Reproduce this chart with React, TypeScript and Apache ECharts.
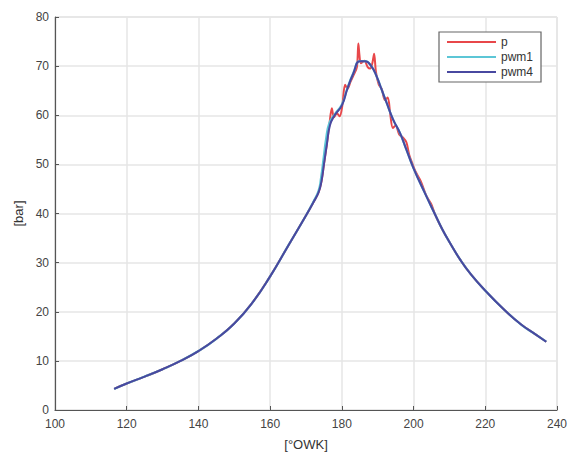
import React, { useEffect, useRef } from "react";
import * as echarts from "echarts";

// crank angle [°OWK] and pressure [bar]
const xPwm4 = [116.5, 120, 125, 130, 135, 140, 145, 150, 155, 160, 165, 170, 172, 173.5, 174.3, 175, 175.8, 176.7, 178, 180, 181.5, 183.2, 185, 186.5, 188.3, 189.7, 191.1, 192.5, 194.3, 196.2, 198, 200, 203, 206, 208, 210, 213, 216, 220, 225, 230, 234, 237];
const yPwm4 = [4.3, 5.4, 6.8, 8.3, 10.0, 12.0, 14.5, 17.6, 21.8, 27.2, 33.4, 39.6, 42.2, 44.3, 46.5, 50, 54, 58, 60, 62, 65.3, 68.5, 71, 71, 69.9, 67.9, 65.2, 62.5, 59.1, 56.4, 53, 49.2, 44.4, 39.8, 36.8, 34.2, 30.6, 27.6, 24.3, 20.6, 17.4, 15.4, 13.9];

const xPwm1 = [116.5, 120, 125, 130, 135, 140, 145, 150, 155, 160, 165, 170, 172, 173.5, 174.2, 174.9, 175.6, 176.5, 178, 180, 181.5, 183.2, 185, 186.5, 188.3, 189.7, 191.1, 192.5, 194.3, 196.2, 198, 200, 203, 206, 208, 210, 213, 216, 220, 225, 230, 234, 237];
const yPwm1 = [4.3, 5.4, 6.8, 8.3, 10.0, 12.0, 14.5, 17.6, 21.8, 27.2, 33.4, 39.6, 42.3, 44.6, 47.3, 51.2, 55.2, 58.4, 60.2, 62.2, 65.4, 68.6, 71, 71, 69.9, 67.9, 65.2, 62.5, 59.1, 56.4, 53, 49.2, 44.4, 39.8, 36.8, 34.2, 30.6, 27.6, 24.3, 20.6, 17.4, 15.4, 13.9];

const xP = [116.5, 120, 125, 130, 135, 140, 145, 150, 155, 160, 165, 170, 172, 173.5, 174.3, 175, 175.8, 176.5, 177.2, 177.8, 178.6, 179.4, 180.1, 180.9, 181.6, 182.4, 183.3, 184.2, 184.6, 184.9, 185.3, 186.3, 187.2, 187.9, 188.5, 189, 189.5, 190.3, 191.1, 192, 192.8, 193.5, 194.2, 195, 196, 197, 198, 198.8, 199.6, 200.5, 202, 203.4, 204.1, 205, 206, 208, 210, 213, 216, 220, 225, 230, 234, 237];
const yP = [4.3, 5.4, 6.8, 8.3, 10.0, 12.0, 14.5, 17.6, 21.8, 27.2, 33.4, 39.6, 42.2, 44.3, 46.5, 50, 54, 58, 61.4, 59.6, 60.4, 59.8, 61.8, 66.2, 65.4, 66.8, 68.2, 69.8, 74.6, 72.3, 70.6, 71.1, 69.8, 69.5, 70.6, 72.5, 68.8, 66.2, 65.4, 63.1, 63.6, 60.2, 57.4, 57.9, 56.1, 55.5, 54.5, 51.9, 50.3, 48.6, 46.6, 43.9, 42.9, 41.8, 39.8, 36.8, 34.2, 30.6, 27.6, 24.3, 20.6, 17.4, 15.4, 13.9];

const xTicks = [100, 120, 140, 160, 180, 200, 220, 240];
const yTicks = [0, 10, 20, 30, 40, 50, 60, 70, 80];

const pairs = (xs: number[], ys: number[]) => xs.map((x, i) => [x, ys[i]]);

const FONT = "Liberation Sans, Arial, sans-serif";

export default function App() {
  const ref = useRef<HTMLDivElement>(null);
  useEffect(() => {
    if (!ref.current) return;
    const chart = echarts.init(ref.current, undefined, { renderer: "svg" });
    chart.setOption({
      animation: false,
      backgroundColor: "#ffffff",
      grid: {
        left: 55,
        right: 14,
        top: 17,
        bottom: 47,
        show: true,
        borderColor: "#d8d8d8",
        borderWidth: 1,
      },
      legend: {
        orient: "vertical",
        left: 439,
        top: 32,
        icon: "rect",
        itemWidth: 49,
        itemHeight: 2,
        itemGap: 3,
        padding: [4, 8, 4, 8],
        borderColor: "#666",
        borderWidth: 1.2,
        borderRadius: 0,
        backgroundColor: "#fff",
        textStyle: { fontSize: 12, color: "#333", fontFamily: FONT },
        data: ["p", "pwm1", "pwm4"],
      },
      xAxis: {
        type: "value",
        min: xTicks[0],
        max: xTicks[xTicks.length - 1],
        interval: 20,
        name: "[°OWK]",
        nameLocation: "middle",
        nameGap: 28,
        nameTextStyle: { fontSize: 13, color: "#333", fontFamily: FONT },
        axisLine: { lineStyle: { color: "#555", width: 1.2 } },
        axisTick: { inside: true, length: 4, lineStyle: { color: "#555" } },
        axisLabel: { fontSize: 12, color: "#444", fontFamily: FONT, margin: 8 },
        splitLine: { show: true, lineStyle: { color: "#e6e6e6", width: 1.5 } },
      },
      yAxis: {
        type: "value",
        min: yTicks[0],
        max: yTicks[yTicks.length - 1],
        interval: 10,
        name: "[bar]",
        nameLocation: "middle",
        nameGap: 28,
        nameTextStyle: { fontSize: 13, color: "#333", fontFamily: FONT },
        axisLine: { show: true, lineStyle: { color: "#555", width: 1.2 } },
        axisTick: { show: true, inside: true, length: 4, lineStyle: { color: "#555" } },
        axisLabel: { fontSize: 12, color: "#444", fontFamily: FONT, margin: 6 },
        splitLine: { show: true, lineStyle: { color: "#e6e6e6", width: 1.5 } },
      },
      series: [
        {
          name: "p",
          type: "line",
          data: pairs(xP, yP),
          symbol: "none",
          smooth: 0.3,
          lineStyle: { color: "#e8474a", width: 2 },
          itemStyle: { color: "#e8474a" },
        },
        {
          name: "pwm1",
          type: "line",
          data: pairs(xPwm1, yPwm1),
          symbol: "none",
          smooth: 0.5,
          lineStyle: { color: "#5cc6d6", width: 2.2 },
          itemStyle: { color: "#5cc6d6" },
        },
        {
          name: "pwm4",
          type: "line",
          data: pairs(xPwm4, yPwm4),
          symbol: "none",
          smooth: 0.5,
          lineStyle: { color: "#4848a0", width: 2 },
          itemStyle: { color: "#4848a0" },
        },
      ],
    });
    return () => chart.dispose();
  }, []);
  return <div ref={ref} style={{ width: 571, height: 457, position: "absolute", left: 0, top: 0 }} />;
}
